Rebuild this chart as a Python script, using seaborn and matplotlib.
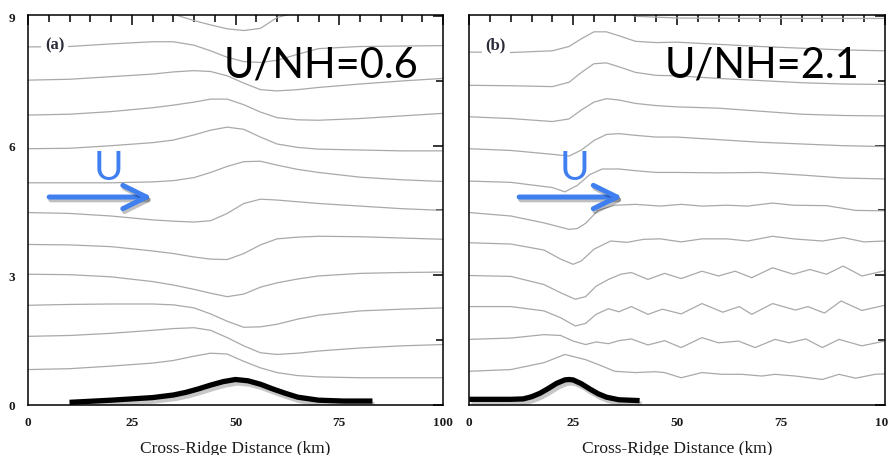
import matplotlib
matplotlib.use("Agg")
import matplotlib.pyplot as plt
import matplotlib.patheffects as pe
from matplotlib.ticker import MultipleLocator, FixedLocator
import seaborn as sns
import pandas as pd

# ---------------- data ----------------
# Panel (a): U/NH = 0.6  -- shared cross-ridge positions (km)
a_km = [0, 10, 20, 30, 35, 40, 44, 48, 52, 56, 60, 65, 70, 80, 90, 100]
a_line01 = [9.30, 9.30, 9.28, 9.22, 9.05, 8.90, 8.80, 8.71, 8.67, 8.72, 8.97, 9.10, 9.15, 9.15, 9.15, 9.15]
a_line02 = [8.29, 8.30, 8.36, 8.41, 8.41, 8.33, 8.20, 8.05, 7.95, 7.93, 7.98, 8.12, 8.25, 8.30, 8.31, 8.32]
a_line03 = [7.52, 7.54, 7.60, 7.66, 7.71, 7.74, 7.72, 7.62, 7.45, 7.30, 7.27, 7.30, 7.35, 7.43, 7.50, 7.56]
a_line04 = [6.71, 6.73, 6.79, 6.88, 6.94, 7.01, 7.08, 7.08, 6.95, 6.78, 6.65, 6.60, 6.59, 6.63, 6.69, 6.75]
a_line05 = [5.93, 5.94, 6.00, 6.07, 6.13, 6.25, 6.36, 6.43, 6.38, 6.20, 6.04, 5.96, 5.92, 5.90, 5.88, 5.88]
a_line06 = [5.14, 5.14, 5.14, 5.16, 5.19, 5.26, 5.38, 5.52, 5.63, 5.64, 5.55, 5.45, 5.38, 5.27, 5.21, 5.17]
a_line07 = [4.45, 4.43, 4.37, 4.28, 4.25, 4.23, 4.26, 4.43, 4.66, 4.76, 4.74, 4.70, 4.66, 4.60, 4.54, 4.50]
a_line08 = [3.71, 3.70, 3.66, 3.56, 3.50, 3.42, 3.37, 3.36, 3.50, 3.70, 3.84, 3.88, 3.90, 3.89, 3.86, 3.83]
a_line09 = [3.02, 3.01, 2.96, 2.85, 2.77, 2.67, 2.58, 2.50, 2.56, 2.72, 2.82, 2.91, 2.98, 3.04, 3.06, 3.07]
a_line10 = [2.30, 2.32, 2.33, 2.33, 2.31, 2.24, 2.10, 1.93, 1.79, 1.80, 1.86, 1.98, 2.07, 2.17, 2.21, 2.24]
a_line11 = [1.58, 1.60, 1.65, 1.72, 1.76, 1.78, 1.72, 1.55, 1.36, 1.20, 1.16, 1.19, 1.24, 1.31, 1.36, 1.39]
a_line12 = [0.81, 0.83, 0.89, 0.96, 1.02, 1.12, 1.19, 1.17, 1.00, 0.85, 0.74, 0.67, 0.64, 0.62, 0.62, 0.62]
a_ridge_km = [10, 20, 30, 35, 38, 41, 44, 47, 50, 53, 56, 59, 62, 65, 70, 76, 83]
a_ridge_z = [0.05, 0.10, 0.16, 0.22, 0.28, 0.36, 0.45, 0.53, 0.58, 0.55, 0.47, 0.36, 0.26, 0.17, 0.10, 0.08, 0.08]

# Panel (b): U/NH = 2.1  -- each streamline has its own read-off positions
b_line00_km = [0, 25, 30, 35, 40, 50, 70, 100]
b_line00_z = [9.10, 9.10, 9.25, 9.20, 9.00, 8.96, 8.95, 8.95]
b_line01_km = [0, 10, 20, 24, 27, 30, 33, 36, 40, 45, 50, 60, 70, 80, 90, 100]
b_line01_z = [8.17, 8.16, 8.20, 8.30, 8.48, 8.64, 8.64, 8.55, 8.42, 8.39, 8.40, 8.35, 8.30, 8.26, 8.22, 8.20]
b_line02_km = [0, 10, 20, 24, 27, 30, 33, 36, 40, 45, 50, 60, 70, 80, 90, 100]
b_line02_z = [7.40, 7.39, 7.37, 7.47, 7.70, 7.90, 7.92, 7.83, 7.70, 7.63, 7.62, 7.56, 7.51, 7.46, 7.43, 7.42]
b_line03_km = [0, 10, 20, 24, 27, 30, 33, 36, 40, 45, 50, 60, 70, 80, 90, 100]
b_line03_z = [6.67, 6.63, 6.56, 6.62, 6.83, 7.01, 7.09, 7.06, 6.98, 6.93, 6.90, 6.87, 6.80, 6.73, 6.70, 6.69]
b_line04_km = [0, 10, 20, 24, 27, 30, 33, 36, 40, 45, 50, 60, 70, 80, 90, 100]
b_line04_z = [5.93, 5.89, 5.80, 5.76, 5.90, 6.12, 6.26, 6.28, 6.24, 6.20, 6.20, 6.14, 6.08, 6.04, 6.00, 5.98]
b_line05_km = [0, 10, 20, 23, 26, 29, 32, 36, 40, 45, 50, 60, 70, 80, 90, 100]
b_line05_z = [5.18, 5.15, 5.03, 4.93, 5.08, 5.33, 5.46, 5.46, 5.42, 5.38, 5.38, 5.37, 5.38, 5.32, 5.25, 5.23]
b_line06_km = [0, 10, 18, 24, 26, 28, 31, 35, 40, 46, 51, 56, 62, 67, 73, 78, 86, 93, 100]
b_line06_z = [4.45, 4.37, 4.21, 4.06, 4.08, 4.20, 4.50, 4.62, 4.64, 4.60, 4.64, 4.60, 4.62, 4.60, 4.67, 4.62, 4.61, 4.50, 4.49]
b_line07_km = [0, 10, 18, 22, 25, 27, 30, 34, 38, 42, 46, 51, 56, 62, 67, 73, 78, 85, 90, 95, 100]
b_line07_z = [3.75, 3.72, 3.58, 3.37, 3.25, 3.33, 3.60, 3.79, 3.76, 3.83, 3.84, 3.77, 3.84, 3.84, 3.79, 3.90, 3.84, 3.79, 3.87, 3.77, 3.79]
b_line08_km = [0, 10, 18, 22, 25.5, 28, 30.5, 33.5, 36.5, 39, 43, 47, 51, 56, 60, 64, 68, 73, 78, 82, 86, 90, 94.5, 100]
b_line08_z = [2.99, 2.97, 2.78, 2.59, 2.44, 2.50, 2.74, 2.90, 3.02, 3.06, 2.90, 3.04, 2.92, 3.09, 2.98, 3.09, 2.94, 3.17, 3.02, 3.13, 3.02, 3.21, 2.98, 3.10]
b_line09_km = [0, 10, 18, 22, 25.5, 28, 30.5, 33.5, 36, 39, 43, 46.5, 51, 56, 61, 65, 68, 73, 78.5, 81.5, 85.5, 89.5, 94.5, 100]
b_line09_z = [2.27, 2.27, 2.17, 2.01, 1.82, 1.88, 2.09, 2.22, 2.15, 2.27, 2.09, 2.21, 2.10, 2.34, 2.14, 2.27, 2.09, 2.34, 2.19, 2.27, 2.12, 2.40, 2.18, 2.30]
b_line10_km = [0, 10, 18, 22, 25, 28, 30.5, 33.5, 36, 39, 43, 47, 51, 56, 60, 64.8, 68.8, 73.6, 77, 81, 85, 89, 94.5, 100]
b_line10_z = [1.51, 1.54, 1.62, 1.60, 1.47, 1.39, 1.45, 1.41, 1.48, 1.52, 1.38, 1.48, 1.32, 1.55, 1.43, 1.47, 1.32, 1.51, 1.43, 1.52, 1.32, 1.51, 1.36, 1.47]
b_line11_km = [0, 10, 18, 23, 28, 32, 35, 40, 44.7, 47, 51, 56, 60.8, 65.6, 70.4, 73.6, 78.5, 85, 89, 93, 97.7, 100]
b_line11_z = [0.77, 0.81, 0.97, 1.16, 1.04, 0.89, 0.77, 0.74, 0.76, 0.74, 0.62, 0.74, 0.70, 0.70, 0.66, 0.70, 0.66, 0.58, 0.70, 0.61, 0.70, 0.71]
b_ridge_km = [0, 5, 10, 13, 15, 17, 19, 21, 23, 24, 25, 27, 29, 31, 33, 36, 41]
b_ridge_z = [0.12, 0.12, 0.12, 0.13, 0.18, 0.26, 0.37, 0.49, 0.57, 0.58, 0.57, 0.48, 0.36, 0.25, 0.17, 0.11, 0.09]

x_ticks = [0, 25, 50, 75, 100]
y_ticks = [0, 3, 6, 9]
panel_labels = ["(a)", "(b)"]
froude_labels = ["U/NH=0.6", "U/NH=2.1"]
x_label = "Cross-Ridge Distance (km)"

# ---------------- build tidy tables ----------------
a_lines = [a_line01, a_line02, a_line03, a_line04, a_line05, a_line06,
           a_line07, a_line08, a_line09, a_line10, a_line11, a_line12]
rows = []
for i, zs in enumerate(a_lines):
    for k, z in zip(a_km, zs):
        rows.append({"line": i, "km": k, "z": z})
df_a = pd.DataFrame(rows)

b_lines = [(b_line00_km, b_line00_z), (b_line01_km, b_line01_z), (b_line02_km, b_line02_z),
           (b_line03_km, b_line03_z), (b_line04_km, b_line04_z), (b_line05_km, b_line05_z),
           (b_line06_km, b_line06_z), (b_line07_km, b_line07_z), (b_line08_km, b_line08_z),
           (b_line09_km, b_line09_z), (b_line10_km, b_line10_z), (b_line11_km, b_line11_z)]
rows = []
for i, (ks, zs) in enumerate(b_lines):
    for k, z in zip(ks, zs):
        rows.append({"line": i, "km": k, "z": z})
df_b = pd.DataFrame(rows)

# ---------------- styling ----------------
sns.set_style("white")
plt.rcParams["font.family"] = ["Liberation Serif", "DejaVu Serif"]
plt.rcParams["axes.linewidth"] = 1.1

W, H = 888, 456
fig = plt.figure(figsize=(W / 100, H / 100), dpi=100)
top_px, bot_px = 16, 405.5
ax_a = fig.add_axes([28 / W, 1 - bot_px / H, (443 - 28) / W, (bot_px - top_px) / H])
ax_b = fig.add_axes([469.3 / W, 1 - bot_px / H, (884.7 - 469.3) / W, (bot_px - top_px) / H])

stream_color = "#a9a9a9"
blue = "#3f7fef"

panels = [
    (ax_a, df_a, a_ridge_km, a_ridge_z, (5.1, 29.9), 19.3),
    (ax_b, df_b, b_ridge_km, b_ridge_z, (12.0, 36.9), 25.4),
]

for idx, (ax, df, rk, rz, arrow_x, u_x) in enumerate(panels):
    sns.lineplot(data=df, x="km", y="z", units="line", estimator=None, sort=False,
                 color=stream_color, linewidth=0.9, ax=ax, legend=False)
    sns.lineplot(x=rk, y=rz, color="black", linewidth=3.8, ax=ax, sort=False,
                 path_effects=[pe.SimpleLineShadow(offset=(1.5, -2.5), alpha=0.22, shadow_color="black"),
                               pe.Normal()],
                 solid_capstyle="butt")

    ax.set_xlim(0, 100)
    ax.set_ylim(0, 9.03)
    ax.xaxis.set_major_locator(FixedLocator(x_ticks))
    ax.xaxis.set_minor_locator(MultipleLocator(5))
    ax.yaxis.set_major_locator(FixedLocator(y_ticks))
    ax.yaxis.set_minor_locator(FixedLocator([1.5, 4.5, 7.5]))
    ax.tick_params(which="both", direction="in", top=True, right=True, width=1.1, color="black")
    ax.tick_params(which="major", length=7)
    ax.tick_params(which="minor", length=5)
    ax.tick_params(axis="x", which="major", pad=8, labelsize=9.5, labelcolor="#1a1a1a")
    ax.tick_params(axis="y", which="major", pad=9, labelsize=9.5, labelcolor="#1a1a1a")
    for lab in ax.get_xticklabels() + ax.get_yticklabels():
        lab.set_fontweight("bold")
    ax.set_xlabel(x_label, fontsize=12.5, labelpad=9, color="#1a1a1a")
    ax.set_ylabel("")
    for s in ax.spines.values():
        s.set_color("black")
        s.set_linewidth(1.1)
    if idx == 1:
        ax.tick_params(axis="y", labelleft=False)

    # panel tag
    ax.text(6.4, 8.34, panel_labels[idx], ha="center", va="center", fontsize=12,
            fontweight="bold", color="#2b2b3a",
            bbox=dict(boxstyle="square,pad=0.25", facecolor="white", edgecolor="none"))
    # big Froude label
    ax.text(94, 7.6, froude_labels[idx], ha="right", va="baseline", fontsize=30,
            family=["Lato", "DejaVu Sans"], color="black")
    # U and arrow
    ax.text(u_x, 5.50, "U", ha="center", va="center", fontsize=29,
            family=["Lato", "DejaVu Sans"], color=blue)
    ann = ax.annotate("", xy=(arrow_x[1], 4.81), xytext=(arrow_x[0], 4.81),
                      arrowprops=dict(arrowstyle="->,head_length=0.85,head_width=0.42",
                                      mutation_scale=20, color=blue, lw=3.6,
                                      shrinkA=0, shrinkB=0, capstyle="round",
                                      joinstyle="round"))
    ann.arrow_patch.set_path_effects([pe.SimpleLineShadow(offset=(1.2, -2.0), alpha=0.25,
                                                          shadow_color="black"), pe.Normal()])

fig.savefig("out.png", dpi=100)
